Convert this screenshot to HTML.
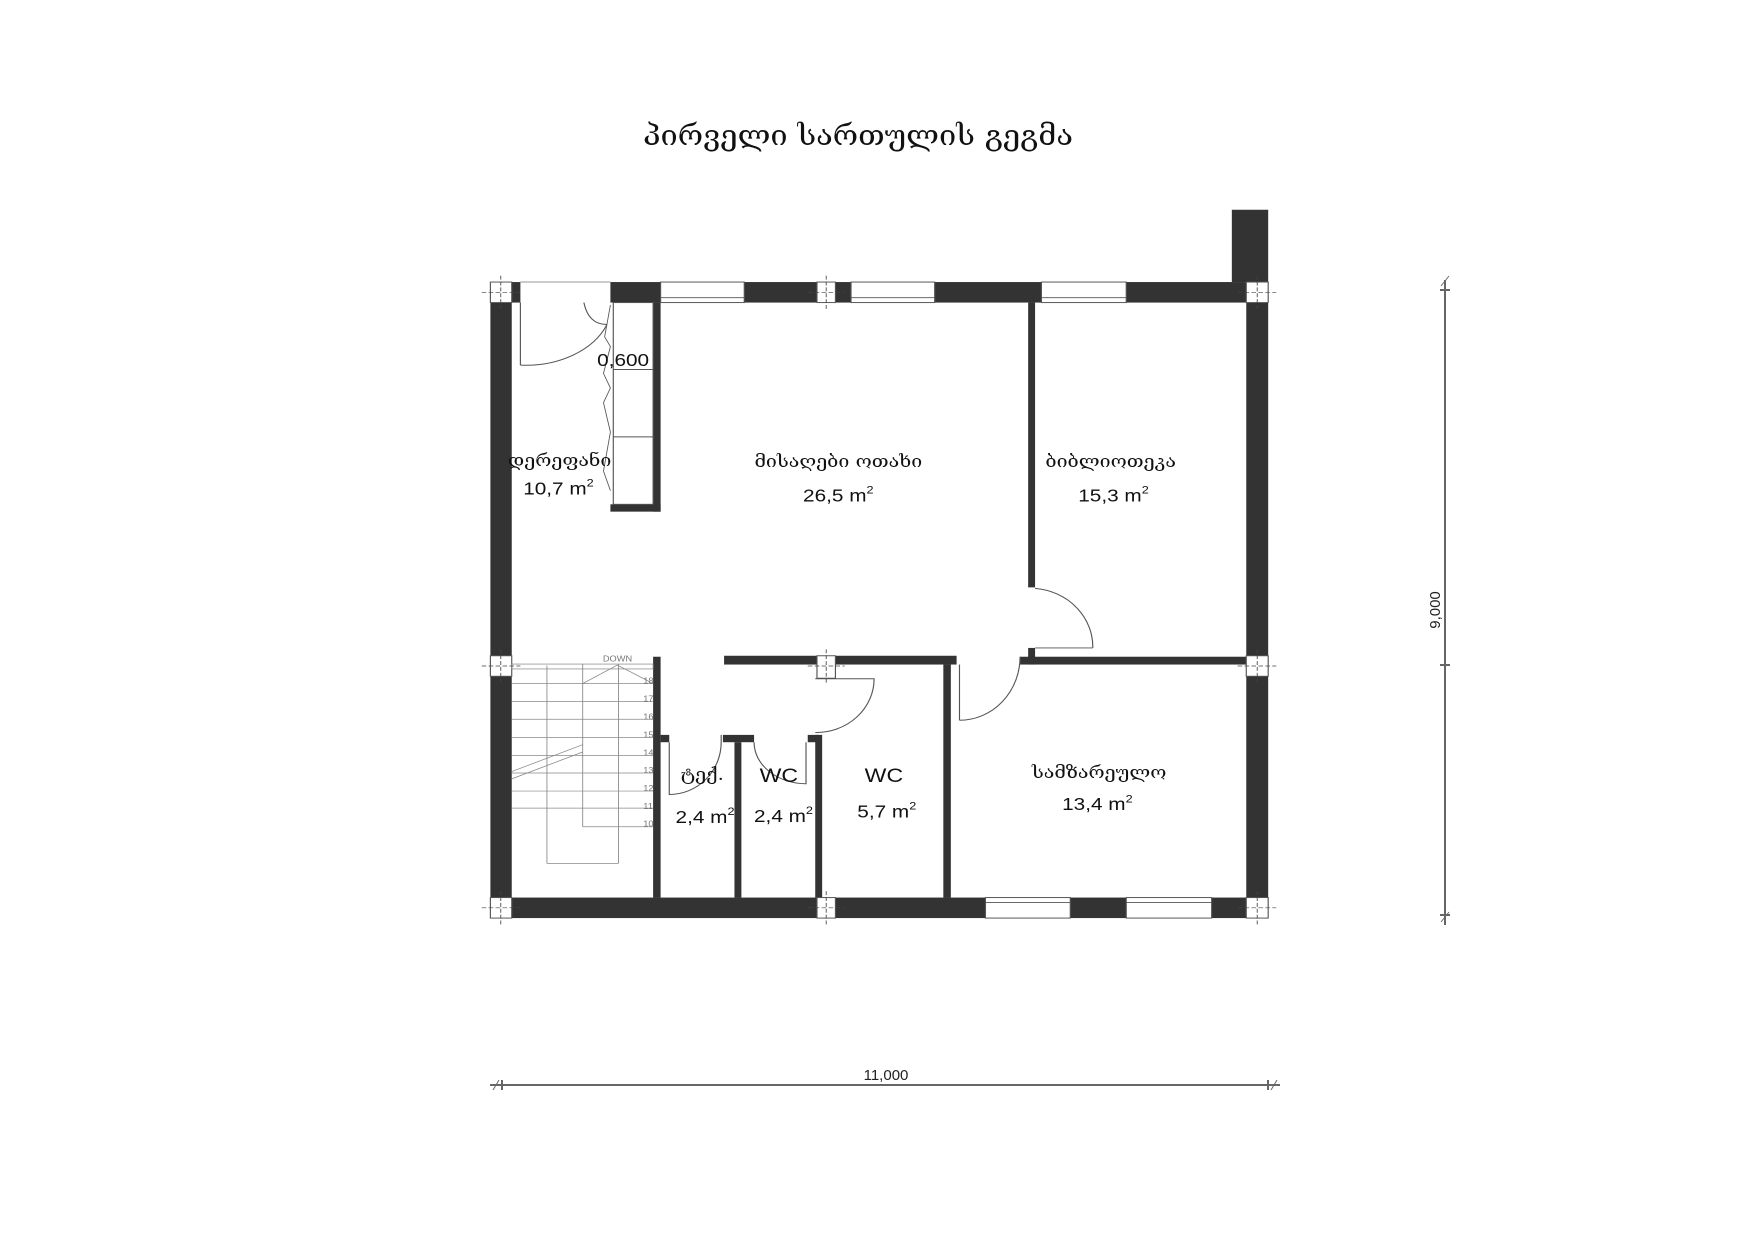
<!DOCTYPE html>
<html><head><meta charset="utf-8"><style>
html,body{margin:0;padding:0;background:#fff;}
svg{display:block;}
text{font-family:"Liberation Sans","DejaVu Sans",sans-serif;}
.g{font-family:"DejaVu Serif","DejaVu Sans",serif;}
</style></head><body>
<svg width="1754" height="1241" viewBox="0 0 1754 1241" xmlns="http://www.w3.org/2000/svg">
<rect width="1754" height="1241" fill="#fff"/>
<text class="g" x="643" y="145" font-size="28" textLength="430" lengthAdjust="spacingAndGlyphs" fill="#111">პირველი სართულის გეგმა</text>

<g stroke="#666" stroke-width="2">
<line x1="1445" y1="280" x2="1445" y2="925"/>
<line x1="1440" y1="290" x2="1450" y2="290"/>
<line x1="1440" y1="665" x2="1450" y2="665"/>
<line x1="1440" y1="915" x2="1450" y2="915"/>
<line x1="1441" y1="286" x2="1449" y2="276" stroke-width="1"/>
<line x1="1441" y1="922" x2="1449" y2="912" stroke-width="1"/>
</g>
<text x="0" y="0" font-size="15" fill="#222" transform="translate(1440,610) rotate(-90)" text-anchor="middle">9,000</text>
<g stroke="#666" stroke-width="2">
<line x1="490" y1="1085" x2="1280" y2="1085"/>
<line x1="502" y1="1080" x2="502" y2="1090"/>
<line x1="1268" y1="1080" x2="1268" y2="1090"/>
<line x1="493" y1="1090" x2="499" y2="1080" stroke-width="1"/>
<line x1="1271" y1="1090" x2="1277" y2="1080" stroke-width="1"/>
</g>
<text x="886" y="1080" font-size="15" fill="#222" text-anchor="middle">11,000</text>

<g transform="translate(450,178) scale(0.577,0.4885)">
<g fill="#333">
<rect x="1355" y="65" width="63" height="148"/>
<rect x="107" y="213" width="15" height="42"/>
<rect x="278" y="213" width="87" height="42"/>
<rect x="510" y="213" width="126" height="42"/>
<rect x="668" y="213" width="27" height="42"/>
<rect x="840" y="213" width="185" height="42"/>
<rect x="1172" y="213" width="208" height="42"/>
<rect x="70" y="255" width="37" height="723"/>
<rect x="70" y="1020" width="37" height="453"/>
<rect x="1380" y="255" width="38" height="723"/>
<rect x="1380" y="1020" width="38" height="453"/>
<rect x="107" y="1473" width="529" height="42"/>
<rect x="668" y="1473" width="260" height="42"/>
<rect x="1075" y="1473" width="97" height="42"/>
<rect x="1320" y="1473" width="60" height="42"/>
<rect x="352" y="255" width="13" height="428"/>
<rect x="278" y="668" width="87" height="15"/>
<rect x="1002" y="255" width="12" height="583"/>
<rect x="1002" y="962" width="12" height="34"/>
<rect x="475" y="978" width="161" height="18"/>
<rect x="668" y="978" width="210" height="18"/>
<rect x="988" y="980" width="392" height="16"/>
<rect x="855" y="996" width="13" height="477"/>
<rect x="352" y="980" width="13" height="493"/>
<rect x="365" y="1140" width="15" height="15"/>
<rect x="473" y="1140" width="54" height="15"/>
<rect x="620" y="1140" width="20" height="15"/>
<rect x="493" y="1155" width="12" height="318"/>
<rect x="633" y="1140" width="12" height="333"/>
</g>
<g fill="none" stroke="#555" stroke-width="2">
<rect x="365" y="213" width="145" height="42"/><line x1="365" y1="245" x2="510" y2="245"/>
<rect x="695" y="213" width="145" height="42"/><line x1="695" y1="245" x2="840" y2="245"/>
<rect x="1025" y="213" width="147" height="42"/><line x1="1025" y1="245" x2="1172" y2="245"/>
<rect x="928" y="1473" width="147" height="42"/><line x1="928" y1="1483" x2="1075" y2="1483"/>
<rect x="1172" y="1473" width="148" height="42"/><line x1="1172" y1="1483" x2="1320" y2="1483"/>
<line x1="122" y1="213" x2="278" y2="213" stroke="#999"/>
<rect x="70" y="213" width="37" height="42"/>
<rect x="1380" y="213" width="38" height="42"/>
<rect x="70" y="1473" width="37" height="42"/>
<rect x="1380" y="1473" width="38" height="42"/>
<rect x="70" y="978" width="37" height="42"/>
<rect x="1380" y="978" width="38" height="42"/>
<rect x="636" y="213" width="32" height="42"/>
<rect x="636" y="1473" width="32" height="42"/>
<rect x="636" y="978" width="32" height="46"/>
<rect x="283" y="255" width="69" height="413"/>
<line x1="283" y1="392" x2="352" y2="392"/>
<line x1="283" y1="530" x2="352" y2="530"/>
<polyline points="278,260 268,325 278,345 266,400 278,430 266,460 278,520 266,600 278,640" stroke-width="1.5"/>
<line x1="122" y1="255" x2="122" y2="383"/>
<path d="M122,383 A150,128 0 0 0 272,300"/>
<path d="M232,255 Q240,300 272,300"/>
<path d="M1014,840 A110,120 0 0 1 1114,962"/>
<line x1="1014" y1="962" x2="1114" y2="962"/>
<path d="M988,980 A105,130 0 0 1 883,1110"/>
<line x1="883" y1="996" x2="883" y2="1110"/>
<path d="M633,1025 L735,1025 A100,110 0 0 1 633,1135"/>
<path d="M380,1155 L380,1262 A90,107 0 0 0 470,1155 L470,1140"/>
<path d="M527,1155 A90,85 0 0 0 617,1240 L617,1155"/>
<g stroke="#888" stroke-width="1.5">
<rect x="107" y="995" width="245" height="10"/>
<line x1="230" y1="995" x2="230" y2="1328"/>
<line x1="292" y1="995" x2="292" y2="1403"/>
<line x1="168" y1="1290" x2="168" y2="1403"/>
<line x1="168" y1="1403" x2="292" y2="1403"/>
<line x1="107" y1="1035" x2="352" y2="1035"/>
<line x1="107" y1="1072" x2="352" y2="1072"/>
<line x1="107" y1="1108" x2="352" y2="1108"/>
<line x1="107" y1="1145" x2="352" y2="1145"/>
<line x1="107" y1="1182" x2="352" y2="1182"/>
<line x1="107" y1="1218" x2="352" y2="1218"/>
<line x1="107" y1="1255" x2="352" y2="1255"/>
<line x1="107" y1="1290" x2="352" y2="1290"/>
<line x1="230" y1="1328" x2="352" y2="1328"/>
<polyline points="230,1035 290,997 352,1035"/>
<line x1="107" y1="1215" x2="230" y2="1160"/>
<line x1="107" y1="1230" x2="230" y2="1175"/>
<line x1="168" y1="998" x2="168" y2="1290"/>
</g>
</g>
<g stroke="#444" stroke-width="1.5" stroke-dasharray="8,4">
<line x1="55" y1="234" x2="122" y2="234"/><line x1="88" y1="200" x2="88" y2="270"/>
<line x1="1365" y1="234" x2="1432" y2="234"/><line x1="1399" y1="200" x2="1399" y2="270"/>
<line x1="55" y1="1494" x2="122" y2="1494"/><line x1="88" y1="1460" x2="88" y2="1530"/>
<line x1="1365" y1="1494" x2="1432" y2="1494"/><line x1="1399" y1="1460" x2="1399" y2="1530"/>
<line x1="55" y1="999" x2="122" y2="999"/><line x1="88" y1="965" x2="88" y2="1035"/>
<line x1="1365" y1="999" x2="1432" y2="999"/><line x1="1399" y1="965" x2="1399" y2="1035"/>
<line x1="620" y1="234" x2="684" y2="234"/><line x1="652" y1="200" x2="652" y2="270"/>
<line x1="620" y1="1494" x2="684" y2="1494"/><line x1="652" y1="1460" x2="652" y2="1530"/>
<line x1="620" y1="999" x2="684" y2="999"/><line x1="652" y1="965" x2="652" y2="1035"/>
</g>
<g fill="#111">
<text x="335" y="1328" font-size="16" fill="#777">10</text>
<text x="335" y="1292" font-size="16" fill="#777">11</text>
<text x="335" y="1255" font-size="16" fill="#777">12</text>
<text x="335" y="1218" font-size="16" fill="#777">13</text>
<text x="335" y="1182" font-size="16" fill="#777">14</text>
<text x="335" y="1145" font-size="16" fill="#777">15</text>
<text x="335" y="1108" font-size="16" fill="#777">16</text>
<text x="335" y="1072" font-size="16" fill="#777">17</text>
<text x="335" y="1035" font-size="16" fill="#777">18</text>
<text x="265" y="990" font-size="16" fill="#777">DOWN</text>
<text x="255" y="385" font-size="36">0,600</text>
<text class="g" x="190" y="590" font-size="34" text-anchor="middle">დერეფანი</text>
<text x="188" y="648" font-size="36" text-anchor="middle">10,7 m<tspan font-size="22" dy="-16">2</tspan></text>
<text class="g" x="673" y="592" font-size="34" text-anchor="middle">მისაღები ოთახი</text>
<text x="673" y="662" font-size="36" text-anchor="middle">26,5 m<tspan font-size="22" dy="-16">2</tspan></text>
<text class="g" x="1145" y="592" font-size="34" text-anchor="middle">ბიბლიოთეკა</text>
<text x="1150" y="662" font-size="36" text-anchor="middle">15,3 m<tspan font-size="22" dy="-16">2</tspan></text>
<text class="g" x="437" y="1232" font-size="34" text-anchor="middle">ტექ.</text>
<text x="442" y="1320" font-size="36" text-anchor="middle">2,4 m<tspan font-size="22" dy="-16">2</tspan></text>
<text x="570" y="1236" font-size="40" text-anchor="middle" font-family="Liberation Serif">WC</text>
<text x="578" y="1318" font-size="36" text-anchor="middle">2,4 m<tspan font-size="22" dy="-16">2</tspan></text>
<text x="752" y="1236" font-size="40" text-anchor="middle" font-family="Liberation Serif">WC</text>
<text x="757" y="1309" font-size="36" text-anchor="middle">5,7 m<tspan font-size="22" dy="-16">2</tspan></text>
<text class="g" x="1125" y="1228" font-size="34" text-anchor="middle">სამზარეულო</text>
<text x="1122" y="1294" font-size="36" text-anchor="middle">13,4 m<tspan font-size="22" dy="-16">2</tspan></text>
</g>
</g>
</svg>
</body></html>
